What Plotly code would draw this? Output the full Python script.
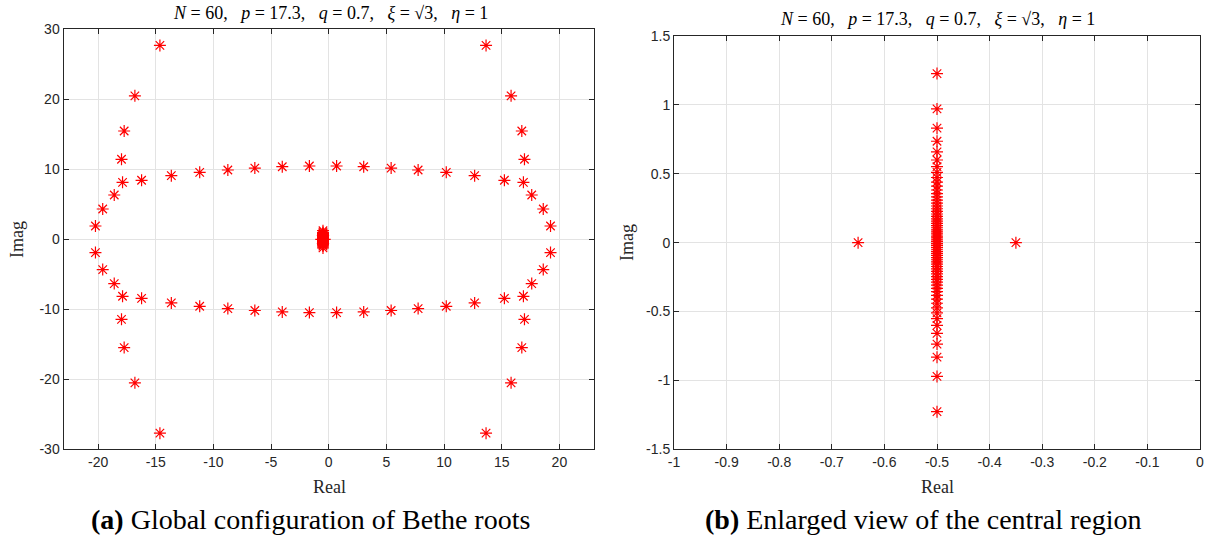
import plotly.graph_objects as go
from plotly.subplots import make_subplots

# ---------------- data ----------------
# outer Bethe roots (global view)
outer_re = [
    -14.64, -16.81, -17.74, -17.97, -17.88, -16.23, -13.65, -11.19, -8.75, -6.41, -4.03, -1.68, -18.60, -19.60, -20.23,
    13.64, 15.81, 16.74, 16.97, 16.88, 15.23, 12.65, 10.19, 7.75, 5.41, 3.03, 0.68, 17.60, 18.60, 19.23,
    -14.64, -16.81, -17.74, -17.97, -17.88, -16.23, -13.65, -11.19, -8.75, -6.41, -4.03, -1.68, -18.60, -19.60, -20.23,
    13.64, 15.81, 16.74, 16.97, 16.88, 15.23, 12.65, 10.19, 7.75, 5.41, 3.03, 0.68, 17.60, 18.60, 19.23,
]
outer_im = [
    27.70, 20.50, 15.47, 11.43, 8.14, 8.43, 9.09, 9.57, 9.90, 10.17, 10.37, 10.47, 6.33, 4.33, 1.90,
    27.70, 20.50, 15.47, 11.43, 8.14, 8.43, 9.09, 9.57, 9.90, 10.17, 10.37, 10.47, 6.33, 4.33, 1.90,
    -27.70, -20.50, -15.47, -11.43, -8.14, -8.43, -9.09, -9.57, -9.90, -10.17, -10.37, -10.47, -6.33, -4.33, -1.90,
    -27.70, -20.50, -15.47, -11.43, -8.14, -8.43, -9.09, -9.57, -9.90, -10.17, -10.37, -10.47, -6.33, -4.33, -1.90,
]
# central roots (enlarged view)
column_im = [
    1.227, 0.971, 0.831, 0.736, 0.659, 0.600, 0.552, 0.510, 0.473, 0.440, 0.410, 0.382, 0.356,
    0.332, 0.309, 0.287, 0.266, 0.246, 0.227, 0.208, 0.190, 0.173, 0.156, 0.140, 0.124, 0.108,
    0.093, 0.078, 0.063, 0.048, 0.034, 0.020, 0.007,
    -0.007, -0.020, -0.034, -0.048, -0.063, -0.078, -0.093, -0.108, -0.124, -0.140, -0.156,
    -0.173, -0.190, -0.208, -0.227, -0.246, -0.266, -0.287, -0.309, -0.332, -0.356, -0.382,
    -0.410, -0.440, -0.473, -0.510, -0.552, -0.600, -0.659, -0.736, -0.831, -0.971, -1.227,
]
column_re = [-0.5] * len(column_im)
side_re = [-0.65, -0.35]
side_im = [0.0, 0.0]

central_re = column_re + side_re
central_im = column_im + side_im

left_xticks = [-20, -15, -10, -5, 0, 5, 10, 15, 20]
left_yticks = [-30, -20, -10, 0, 10, 20, 30]
right_xticks = [-1, -0.9, -0.8, -0.7, -0.6, -0.5, -0.4, -0.3, -0.2, -0.1, 0]
right_yticks = [-1.5, -1, -0.5, 0, 0.5, 1, 1.5]

nb = "\u00a0"
sp = nb * 3
title_text = (f"<i>N</i>{nb}={nb}60,{sp}<i>p</i>{nb}={nb}17.3,{sp}<i>q</i>{nb}={nb}0.7,{sp}"
              f"<i>ξ</i>{nb}={nb}√3,{sp}<i>η</i>{nb}={nb}1")

# ---------------- figure ----------------
W, H = 1209, 538
fig = make_subplots(rows=1, cols=2)

mk = dict(symbol="asterisk-open", size=10, color="#ff0000", line=dict(color="#ff0000", width=1.2))

fig.add_trace(go.Scatter(x=outer_re + central_re, y=outer_im + central_im, mode="markers",
                         marker=mk, showlegend=False), row=1, col=1)
fig.add_trace(go.Scatter(x=central_re, y=central_im, mode="markers",
                         marker=mk, showlegend=False), row=1, col=2)

axis_common = dict(showgrid=True, gridcolor="#e3e3e3", gridwidth=1, zeroline=False,
                   showline=True, linecolor="#262626", linewidth=1, mirror="allticks",
                   ticks="inside", ticklen=5, tickcolor="#262626", automargin=False,
                   tickfont=dict(family="Liberation Sans, Arial", size=14, color="#262626"))

def px_x(p):
    return p / W

def px_y(p):
    return 1 - p / H

fig.update_xaxes(domain=[px_x(63.5), px_x(594)], range=[-23, 23], tickvals=left_xticks,
                 ticktext=[str(v) for v in left_xticks], **axis_common, row=1, col=1)
fig.update_yaxes(domain=[px_y(449.3), px_y(29.3)], range=[-30, 30], tickvals=left_yticks,
                 ticktext=[str(v) for v in left_yticks], **axis_common, row=1, col=1)
fig.update_xaxes(domain=[px_x(674), px_x(1200)], range=[-1, 0], tickvals=right_xticks,
                 ticktext=["-1", "-0.9", "-0.8", "-0.7", "-0.6", "-0.5", "-0.4", "-0.3", "-0.2", "-0.1", "0"],
                 **axis_common, row=1, col=2)
fig.update_yaxes(domain=[px_y(449.3), px_y(36)], range=[-1.5, 1.5], tickvals=right_yticks,
                 ticktext=["-1.5", "-1", "-0.5", "0", "0.5", "1", "1.5"], **axis_common, row=1, col=2)

serif = "Liberation Serif, Times New Roman, serif"
ann = []
# titles
ann.append(dict(x=px_x(330), y=px_y(13), text=title_text, font=dict(family=serif, size=18, color="#000")))
ann.append(dict(x=px_x(937), y=px_y(19), text=title_text, font=dict(family=serif, size=18, color="#000")))
# axis labels
ann.append(dict(x=px_x(329), y=px_y(487), text="Real", font=dict(family=serif, size=18, color="#262626")))
ann.append(dict(x=px_x(937), y=px_y(487), text="Real", font=dict(family=serif, size=18, color="#262626")))
ann.append(dict(x=px_x(17), y=px_y(240), text="Imag", textangle=-90, font=dict(family=serif, size=18, color="#262626")))
ann.append(dict(x=px_x(627), y=px_y(243), text="Imag", textangle=-90, font=dict(family=serif, size=18, color="#262626")))
# captions
ann.append(dict(x=px_x(310), y=px_y(519), text="<b>(a)</b> Global configuration of Bethe roots",
                font=dict(family=serif, size=28, color="#000")))
ann.append(dict(x=px_x(923), y=px_y(519), text="<b>(b)</b> Enlarged view of the central region",
                font=dict(family=serif, size=28, color="#000")))
for a in ann:
    a.update(xref="paper", yref="paper", showarrow=False, xanchor="center", yanchor="middle")

fig.update_layout(width=W, height=H, margin=dict(l=0, r=0, t=0, b=0, autoexpand=False),
                  paper_bgcolor="white", plot_bgcolor="white", annotations=ann)

fig.write_html("out.html", config={"displayModeBar": False},
               post_script="document.body.style.margin='0';document.body.style.padding='0';"
                           "document.documentElement.style.overflow='hidden';")
